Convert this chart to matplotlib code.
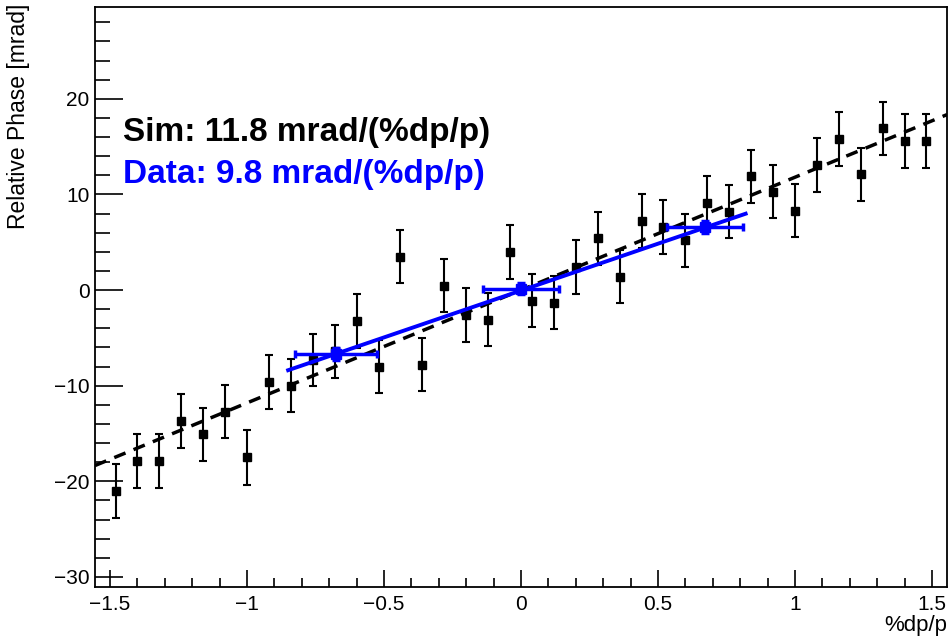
import numpy as np
import matplotlib
matplotlib.use("Agg")
import matplotlib.pyplot as plt
from matplotlib.ticker import MultipleLocator, FuncFormatter

plt.rcParams['font.family'] = ['Liberation Sans', 'DejaVu Sans']

# simulated points
sim_x = [-1.48, -1.40, -1.32, -1.24, -1.16, -1.08, -1.00, -0.92, -0.84, -0.76,
         -0.68, -0.60, -0.52, -0.44, -0.36, -0.28, -0.20, -0.12, -0.04, 0.04,
         0.12, 0.20, 0.28, 0.36, 0.44, 0.52, 0.60, 0.68, 0.76, 0.84,
         0.92, 1.00, 1.08, 1.16, 1.24, 1.32, 1.40, 1.48]
sim_y = [-21.0, -17.9, -17.9, -13.7, -15.1, -12.7, -17.5, -9.6, -10.0, -7.3,
         -6.4, -3.25, -8.0, 3.5, -7.8, 0.45, -2.6, -3.1, 4.0, -1.1,
         -1.3, 2.4, 5.4, 1.4, 7.2, 6.6, 5.2, 9.1, 8.2, 11.9,
         10.3, 8.3, 13.1, 15.8, 12.1, 16.9, 15.6, 15.6]
sim_err = [2.85, 2.85, 2.8, 2.8, 2.8, 2.8, 2.85, 2.8, 2.8, 2.75,
           2.75, 2.8, 2.8, 2.75, 2.8, 2.75, 2.8, 2.8, 2.8, 2.8,
           2.8, 2.8, 2.8, 2.8, 2.8, 2.8, 2.8, 2.8, 2.8, 2.8,
           2.8, 2.8, 2.8, 2.8, 2.8, 2.75, 2.8, 2.8]
sim_slope = 11.8
sim_icpt = 0.0

# measured points
data_x = [-0.676, 0.0, 0.672]
data_y = [-6.7, 0.15, 6.6]
data_xerr = [0.15, 0.14, 0.14]
data_yerr = [0.6, 0.6, 0.6]
data_slope = 9.8
data_icpt = -0.05
data_range = [-0.85, 0.82]

xlim = (-1.555, 1.555)
ylim = (-31.05, 29.6)

fig = plt.figure(figsize=(9.51, 6.39), dpi=100)
ax = fig.add_axes([0.0999, 0.0814, 0.8959, 0.9076])

ax.errorbar(sim_x, sim_y, yerr=sim_err, fmt='s', color='black', ms=5.8,
            elinewidth=1.5, capsize=2.6, capthick=1.5, zorder=2)

xx = np.array(xlim)
ax.plot(xx, sim_slope * xx + sim_icpt, color='black', lw=2.5,
        dashes=(3.5, 2.5), zorder=3)

ax.errorbar(data_x, data_y, xerr=data_xerr, yerr=data_yerr, fmt='s',
            color=(0, 0, 1), ms=6.5, elinewidth=2.5, capsize=3, capthick=2.5,
            zorder=4)
dx = np.array(data_range)
ax.plot(dx, data_slope * dx + data_icpt, color=(0, 0, 1), lw=2.8, zorder=5)

ax.set_xlim(*xlim)
ax.set_ylim(*ylim)

fmt = FuncFormatter(lambda v, p: ('%g' % round(v, 3)).replace('-', '\u2212'))
ax.xaxis.set_major_locator(MultipleLocator(0.5))
ax.xaxis.set_minor_locator(MultipleLocator(0.1))
ax.xaxis.set_major_formatter(fmt)
ax.yaxis.set_major_locator(MultipleLocator(10))
ax.yaxis.set_minor_locator(MultipleLocator(2))
ax.yaxis.set_major_formatter(fmt)
ax.tick_params(axis='x', which='major', direction='in', length=12.5, width=1.2,
               labelsize=15, pad=6)
ax.tick_params(axis='x', which='minor', direction='in', length=6.7, width=1.2)
ax.tick_params(axis='y', which='major', direction='in', length=20, width=1.2,
               labelsize=15, pad=4)
ax.tick_params(axis='y', which='minor', direction='in', length=10.8, width=1.2)
for s in ax.spines.values():
    s.set_linewidth(1.3)

fig.text(0.019, 0.994, 'Relative Phase [mrad]', rotation=90, ha='center',
         va='top', fontsize=16.5)
fig.text(0.996, 0.005, '%dp/p', ha='right', va='bottom', fontsize=16)

ax.text(-1.453, 15.6, 'Sim: 11.8 mrad/(%dp/p)', fontsize=24,
        fontweight='bold', color='black', va='baseline')
ax.text(-1.453, 11.2, 'Data: 9.8 mrad/(%dp/p)', fontsize=24,
        fontweight='bold', color=(0, 0, 1), va='baseline')

fig.savefig('out.png', dpi=100)
